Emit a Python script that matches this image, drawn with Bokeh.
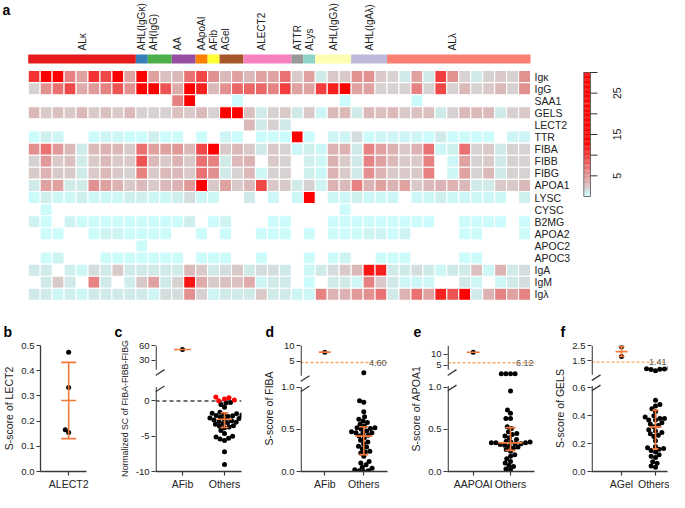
import numpy as np
from bokeh.plotting import figure
from bokeh.layouts import row, column
from bokeh.models import Range1d, LinearColorMapper, FixedTicker, ColumnDataSource
from bokeh.transform import transform
from bokeh.core.properties import value
from bokeh.embed import file_html
from bokeh.resources import INLINE

N = None

# ---------------- panel a : heat map data ----------------
groups = ["ALκ", "AHL(IgGκ)", "AH(IgG)", "AA", "AApoAI", "AFib", "AGel",
          "ALECT2", "ATTR", "ALys", "AHL(IgGλ)", "AHL(IgAλ)", "ALλ"]
group_sizes = [9, 1, 2, 2, 1, 1, 2, 4, 1, 1, 3, 3, 12]
group_colors = ["#e41a1c", "#377eb8", "#4daf4a", "#984ea3", "#ff7f00", "#ffff33", "#a65628",
                "#f781bf", "#999999", "#8dd3c7", "#ffffb3", "#bebada", "#fb8072"]
proteins = ["Igκ", "IgG", "SAA1", "GELS", "LECT2", "TTR", "FIBA", "FIBB", "FIBG", "APOA1",
            "LYSC", "CYSC", "B2MG", "APOA2", "APOC2", "APOC3", "IgA", "IgM", "Igλ"]

sc_igk = [10.5, 20, 22, 6.2, 4.4, 10.5, 9.2, 25, 4.4, 18, 4.4, 2.7, 3.1, 7.0, 9.2, 5.4, 3.1, 4.4, 3.1, 4.4,
          4.4, 7.0, 2.3, 4.4, 1.2, 2.3, 2.3, 5.4, 5.4, 2.3, 1.9, 1.2, 4.4, 1.2, 9.8, 5.4, 1.9, 1.2, 1.9, 2.3,
          1.9, 5.4]
sc_igg = [1.9, 5.4, 7.0, 9.2, 3.9, 4.9, 6.2, 8.6, 5.4, 17, 16, 8.6, 3.9, 21, 11.5, 3.1, 5.4, 7.5, 7.5, 7.5,
          6.2, 9.8, 4.4, 4.4, 9.8, 11.5, 15, 4.4, 4.4, 1.9, 1.9, 1.9, 6.2, 1.9, 9.2, 1.9, 3.1, 1.9, 2.3, 3.1,
          1.9, 5.4]
sc_saa1 = [N, N, N, N, N, N, N, N, N, N, N, N, 6.2, 24, N, N, N, 0.3, N, N,
           N, N, N, N, N, N, 0.3, N, N, N, N, N, 0.3, N, N, N, N, N, N, N,
           N, N]
sc_gels = [3.1, 2.3, 2.7, 2.3, 3.1, 2.3, 2.7, 2.3, 3.1, 1.9, 1.9, 1.9, 2.7, 2.3, 3.1, 1.9, 19, 17, 2.7, 1.2,
           1.9, 2.3, 1.2, 2.3, 0.6, 3.1, 3.1, 1.2, 3.1, 2.7, 3.1, 2.3, 2.7, 2.7, 1.2, 1.9, 3.1, 3.1, 3.1, 1.2,
           1.9, 2.3]
sc_lect2 = [N, N, N, N, N, N, N, N, N, N, N, N, N, N, N, N, N, N, 3.1, 1.2,
            1.9, 1.2, N, N, N, N, N, N, N, N, N, N, N, N, N, N, N, N, N, N,
            N, N]
sc_ttr = [0.3, 1.0, 0.6, N, N, 0.3, 0.6, 0.6, 0.3, 0.3, 1.0, 0.3, 0.3, N, 0.3, N, 0.6, 0.3, N, 0.3,
          0.3, 0.3, 26, 0.3, N, 0.6, 0.6, 1.6, 0.3, 0.6, 0.6, 0.6, 0.6, 0.3, 1.2, 0.3, 0.3, 0.3, 0.3, N,
          0.6, 0.6]
sc_fiba = [5.4, 7.0, 4.9, 3.1, 1.2, 3.1, 3.5, 3.1, 2.3, 7.0, 4.4, 4.4, 4.9, 3.1, 9.2, 22, 2.3, 3.1, 2.3, 1.2,
           2.3, 1.9, 0.5, 1.0, 0.5, 3.5, 3.5, 1.2, 6.2, 4.4, 3.5, 2.3, 3.5, 7.0, 0.5, 1.0, 7.0, 1.9, 2.3, 1.2,
           1.9, 1.9]
sc_fibb = [1.9, 4.9, 2.3, 2.7, 1.2, 2.3, 3.1, 2.3, 2.3, 8.6, 3.1, 2.3, 3.5, 2.3, 7.0, 6.2, 1.2, 3.1, 3.5, N,
           2.3, 1.9, N, 1.0, 0.5, 3.5, 2.3, 1.2, 6.2, 4.4, 3.1, 2.3, 2.3, 6.2, N, 0.5, 4.4, 1.9, 2.3, 1.2,
           1.9, 1.9]
sc_fibg = [2.3, 3.5, 2.3, 2.3, 1.2, 2.3, 3.1, 2.3, 1.9, 6.2, 2.3, 3.1, 3.1, 2.3, 7.0, 5.4, 1.2, 1.9, 3.1, 0.5,
           1.9, 1.9, N, 1.0, 0.5, 3.5, 2.3, 1.2, 5.4, 3.5, 2.3, 2.3, 2.3, 6.2, N, 0.5, 4.4, 1.9, 3.1, 1.2,
           1.9, 1.9]
sc_apoa1 = [1.2, 4.4, 4.4, 1.2, 1.2, 5.4, 4.4, 3.5, 2.3, 3.1, 2.3, 3.1, 3.5, 4.9, 18, 2.3, 4.4, 2.3, 3.1, 9.2,
            2.3, 2.3, 1.2, 1.9, 0.8, 3.5, 3.1, 6.2, 3.5, 4.4, 3.5, 4.4, 2.3, 3.1, 3.5, 3.5, 3.1, 1.2, 1.2, 2.3,
            2.3, 3.1]
sc_lysc = [0.3, 1.0, 0.5, 0.5, 1.0, 0.5, 0.5, 0.5, 1.0, 1.0, 0.5, 0.5, 1.0, 1.6, 0.5, 0.5, N, N, 1.2, N,
           0.5, N, 0.5, 27, N, 0.5, 0.5, 1.0, 0.5, 0.5, 0.5, N, 0.5, 0.5, 1.0, 0.5, 0.5, 0.5, 0.5, 0.5,
           N, 1.0]
sc_cysc = [N, 0.3, N, N, N, N, N, N, N, N, N, N, N, N, N, N, N, N, N, N,
           N, N, N, N, N, N, 0.3, N, N, N, N, N, N, N, N, N, N, N, N, N,
           N, N]
sc_b2mg = [0.8, 0.3, N, 0.8, 0.3, 0.3, 0.3, 0.3, 0.3, 0.3, 0.3, 0.3, 0.3, 1.0, N, 0.3, 0.8, N, N, N,
           0.3, 0.3, N, N, N, 0.3, 0.3, 0.3, 0.3, 0.3, 0.3, 0.3, 0.3, 0.3, N, N, 0.3, 0.3, 0.3, 0.3,
           N, 0.3]
sc_apoa2 = [N, 0.3, 0.3, N, N, 0.3, 0.8, 0.8, 0.3, 0.3, 0.3, 0.3, N, N, 0.3, N, 0.3, N, N, 0.3,
            0.3, 0.3, N, 0.3, N, 0.3, 0.3, 0.3, 0.8, 0.8, 0.3, 0.8, N, N, N, N, 0.3, 0.3, N, N,
            N, 0.3]
sc_apoc2 = [N, N, N, N, N, N, N, N, N, 0.3, N, N, N, N, N, N, N, N, N, N,
            N, N, N, N, N, N, N, N, N, N, N, N, N, N, N, N, N, N, N, N,
            N, N]
sc_apoc3 = [N, 0.3, 0.8, N, N, N, 0.3, 0.3, 0.3, 0.3, 0.3, 0.3, 0.3, N, 0.3, 0.3, 0.3, N, N, 0.3,
            N, N, N, 0.3, N, 0.3, 0.8, N, N, 0.3, 0.3, 0.3, N, N, N, N, 0.3, 0.3, N, N,
            N, N]
sc_iga = [1.2, 1.2, N, 1.0, 0.5, 1.6, 1.2, 2.3, 1.2, 1.2, 1.2, 1.2, 1.2, 3.1, 2.3, 1.2, 1.6, 2.3, 1.2, 1.6,
          1.6, 1.2, N, 0.5, 1.2, 1.6, 2.3, 3.1, 12, 11.5, 1.2, 1.2, 1.6, 1.2, 0.5, 1.2, 1.2, 2.7, 0.5, 3.5,
          1.2, 1.6]
sc_igm = [N, 1.2, 2.3, 1.2, N, 6.2, 1.2, N, 1.0, 2.3, 4.4, 1.2, 1.9, 12, 3.9, 2.3, 2.7, 2.7, 3.9, 0.6,
          1.2, 1.2, N, 0.3, N, 1.2, 1.2, 0.5, 6.2, 2.3, 1.2, 0.5, 0.5, 0.5, N, N, 1.2, 0.5, N, 0.5,
          1.2, 1.6]
sc_igl = [1.2, 1.2, 0.6, 1.0, 0.5, 1.2, 1.2, 1.2, 1.2, 1.2, 0.6, 1.6, 1.6, 5.4, 1.9, 0.6, 1.2, 1.2, 1.2, 2.3,
          1.2, 1.2, 0.6, 0.5, 6.2, 3.5, 3.5, 4.9, 5.4, 7.0, 1.2, 3.5, 7.0, 4.4, 11.5, 8.6, 20, 1.2, 3.5, 6.2,
          4.4, 6.2]
heat_rows = [sc_igk, sc_igg, sc_saa1, sc_gels, sc_lect2, sc_ttr, sc_fiba, sc_fibb, sc_fibg, sc_apoa1,
             sc_lysc, sc_cysc, sc_b2mg, sc_apoa2, sc_apoc2, sc_apoc3, sc_iga, sc_igm, sc_igl]

cmap_stops = [0, 0.6, 1.2, 1.9, 3.1, 4.4, 5.4, 7.0, 9.2, 11.5, 13, 30]
cmap_colors = ["#ccffff", "#cdf5f5", "#d0e8e8", "#d8d0d0", "#dcb8b8", "#e0a0a0", "#e39090",
               "#e97070", "#f04848", "#f82020", "#ff0000", "#ff0000"]
cbar_ticks = [5, 10, 15, 20, 25, 30]
cbar_labels = [5, 15, 25]

# ---------------- panels b-f data ----------------
lect2_alect2 = [0.473, 0.333, 0.155, 0.166]
fib_afib = [52.0]
fib_others = [-9.0, -7.2, -5.6, -5.4, -5.3, -5.1, -5.0, -4.6, -4.2, -3.8, -3.7, -3.6, -3.5, -3.3,
              -3.2, -3.1, -3.0, -2.9, -2.8, -2.7, -2.6, -2.5, -2.4, -2.3, -2.2, -2.1, -2.05, -2.0,
              -1.9, -1.8, -1.75, -1.6, -0.9, -0.5, -0.3, -0.2, 0.05, 0.15, 0.3, 0.45, 0.55]
fiba_afib = [7.9]
fiba_others = [0.00, 0.01, 0.01, 0.02, 0.04, 0.05, 0.08, 0.10, 0.12, 0.18, 0.22, 0.23, 0.24, 0.27,
               0.29, 0.30, 0.33, 0.35, 0.37, 0.40, 0.42, 0.43, 0.45, 0.46, 0.46, 0.47, 0.48, 0.50,
               0.51, 0.52, 0.52, 0.54, 0.56, 0.58, 0.60, 0.62, 0.65, 0.71, 0.82, 0.84, 1.34]
apoa1_aapoai = [11.0]
apoa1_others = [0.02, 0.03, 0.06, 0.07, 0.10, 0.12, 0.15, 0.18, 0.20, 0.24, 0.26, 0.28, 0.29, 0.30,
                0.31, 0.32, 0.33, 0.33, 0.34, 0.34, 0.34, 0.35, 0.35, 0.36, 0.38, 0.40, 0.42, 0.44,
                0.45, 0.47, 0.51, 0.53, 0.63, 0.63, 0.69, 0.73, 0.956, 1.0, 1.0, 1.0, 1.0]
gels_agel = [2.42, 1.78]
gels_others = [0.03, 0.04, 0.06, 0.07, 0.10, 0.11, 0.12, 0.14, 0.15, 0.16, 0.165, 0.17, 0.18, 0.22,
               0.25, 0.26, 0.27, 0.28, 0.29, 0.30, 0.32, 0.33, 0.34, 0.35, 0.37, 0.37, 0.38, 0.38,
               0.39, 0.40, 0.43, 0.45, 0.47, 0.48, 0.51, 0.85, 0.93, 0.95, 0.96, 0.98, 1.0]
fiba_cut = 4.60
apoa1_cut = 6.12
gels_cut = 1.41
panel_letters = ["b", "c", "d", "e", "f"]

# ---------------- style ----------------
FONT = "Liberation Sans"
INK = "#222222"
AXIS = "#3a3a3a"
ORANGE = "#f47a3a"
THR_COLOR = "#f8a85e"

# ---------------- heat map figure (also carries the panel letters b-f) ----------------
HM_W, HM_H = 669, 340
COL_W, ROW_H = 11.96, 12.1
HM_LEFT, HM_TOP = 27.7, 70.0
x_start = -HM_LEFT / COL_W
x_end = x_start + HM_W / COL_W
y_top = -HM_TOP / ROW_H
y_bottom = y_top + HM_H / ROW_H


def hx(px):
    return x_start + px / COL_W


def hy(px):
    return y_top + px / ROW_H


def hex2rgb(h):
    return [int(h[i:i + 2], 16) for i in (1, 3, 5)]


rgb = np.array([hex2rgb(c) for c in cmap_colors], float)
grid = np.linspace(0, 30, 256)
palette = []
for v in grid:
    r, g, b = (np.interp(v, cmap_stops, rgb[:, j]) for j in range(3))
    palette.append("#%02x%02x%02x" % (int(round(r)), int(round(g)), int(round(b))))
mapper = LinearColorMapper(palette=palette, low=0, high=30)

hm = figure(width=HM_W, height=HM_H, x_range=Range1d(x_start, x_end), y_range=Range1d(y_bottom, y_top),
            x_axis_location=None, y_axis_location=None, output_backend="svg", toolbar_location=None,
            min_border=0)
hm.outline_line_color = None
hm.grid.visible = False

cx, cy, cv = [], [], []
for r, vals in enumerate(heat_rows):
    for k, v in enumerate(vals):
        if v is not None:
            cx.append(k + 0.5)
            cy.append(r + 0.5)
            cv.append(v)
hm.rect(x="x", y="y", width=1, height=1, source=ColumnDataSource(dict(x=cx, y=cy, v=cv)),
        fill_color=transform("v", mapper), line_color="white", line_width=1.1)

starts = np.concatenate([[0], np.cumsum(group_sizes)[:-1]])
sizes = np.array(group_sizes)
bar_y0, bar_y1 = hy(54.0), hy(63.0)
hm.rect(x=starts + sizes / 2, y=(bar_y0 + bar_y1) / 2, width=sizes, height=bar_y1 - bar_y0,
        fill_color=group_colors, line_color=None)
hm.text(x=starts + (sizes - 1) // 2 + 0.5, y=[hy(50.0)] * len(groups), text=groups, angle=np.pi / 2,
        text_align="left", text_baseline="middle", text_font=value(FONT),
        text_font_size=value("10px"), text_color=INK)
hm.text(x=[hx(534)] * len(proteins), y=np.arange(len(proteins)) + 0.5, text=proteins,
        text_align="left", text_baseline="middle", text_font=value(FONT),
        text_font_size=value("10.5px"), text_color=INK)
hm.text(x=[hx(2.0)], y=[hy(1.0)], text=["a"], text_align="left", text_baseline="top",
        text_font=value(FONT), text_font_size=value("14px"), text_font_style="bold", text_color="black")
hm.text(x=[hx(px) for px in (3, 114, 265, 413, 560)], y=[hy(331.0)] * 5, text=panel_letters,
        text_align="left", text_baseline="alphabetic", text_font=value(FONT),
        text_font_size=value("14px"), text_font_style="bold", text_color="black")

# colour bar (values 0..30)
cb_x0, cb_x1 = hx(583.3), hx(590.0)
cb_top, cb_bot = hy(72.0), hy(196.0)
cb_unit = (cb_bot - cb_top) / 30.0
cb_vals = np.linspace(0, 30, 151)
cb_src = ColumnDataSource(dict(v=cb_vals, y=cb_bot - cb_vals * cb_unit))
hm.rect(x=(cb_x0 + cb_x1) / 2, y="y", width=cb_x1 - cb_x0,
        height=cb_unit * 30 / 150 * 1.3, source=cb_src,
        fill_color=transform("v", mapper), line_color=None)
hm.rect(x=(cb_x0 + cb_x1) / 2, y=(cb_top + cb_bot) / 2, width=cb_x1 - cb_x0, height=cb_bot - cb_top,
        fill_color=None, line_color="#555555", line_width=0.8)
tick_y = [cb_bot - t * cb_unit for t in cbar_ticks]
hm.segment(x0=[cb_x1] * len(tick_y), y0=tick_y, x1=[hx(597)] * len(tick_y), y1=tick_y,
           line_color="#333333", line_width=1)
hm.text(x=[hx(616)] * len(cbar_labels), y=[cb_bot - t * cb_unit for t in cbar_labels],
        text=[str(t) for t in cbar_labels], angle=np.pi / 2, text_align="center",
        text_baseline="middle", text_font=value(FONT), text_font_size=value("10.5px"), text_color=INK)

# ---------------- panels b-f ----------------
PANEL_H = 152
MB_TOP, MB_BOTTOM = 5, 17
FRAME_H = PANEL_H - MB_TOP - MB_BOTTOM
SC = FRAME_H / 146.0       # vertical compression relative to the reference frames
DOT = 5.0


def swarm(ys, diam):
    out = np.zeros(len(ys))
    placed = []
    for i in np.argsort(ys):
        y = ys[i]
        intervals = []
        cands = [0.0]
        for dx, yy in placed:
            dy = abs(y - yy)
            if dy < diam:
                h = np.sqrt(diam ** 2 - dy ** 2)
                intervals.append((dx - h, dx + h))
                cands += [dx - h, dx + h]
        cands.sort(key=abs)
        for c in cands:
            if all(not (lo + 1e-6 < c < hi - 1e-6) for lo, hi in intervals):
                out[i] = c
                break
        placed.append((out[i], y))
    return out


def make_panel(fig_x0, fig_x1, frame_l, frame_r, cat_x, cat_names, data, ylabel,
               ylab_size, lo_v0, lo_s, lo_ticks, lo_labels, up=None, up_ticks=(), up_labels=(),
               split=np.inf, lo_top_px=None, up_bot_px=None, stat="median", center_hw=(8, 8),
               cap_hw=4.5, cut=None, zero_line=False, highlight=None):
    lo_s = lo_s * SC
    ppu = (cat_x[1] - cat_x[0]) if len(cat_x) > 1 else 30.0
    xs = 1 - (cat_x[0] - frame_l) / ppu
    xe = xs + (frame_r - frame_l) / ppu
    p = figure(width=fig_x1 - fig_x0, height=PANEL_H, x_range=Range1d(xs, xe),
               y_range=Range1d(lo_v0, lo_v0 + FRAME_H / lo_s), output_backend="svg",
               toolbar_location=None, min_border_left=frame_l - fig_x0,
               min_border_right=fig_x1 - frame_r, min_border_top=MB_TOP, min_border_bottom=MB_BOTTOM)
    p.outline_line_color = None
    p.grid.visible = False
    if up is not None:
        up_va, up_pa, up_s = up
        up_pa, up_s = up_pa * SC, up_s * SC
        us = up_va - up_pa / up_s
        p.extra_y_ranges = {"up": Range1d(us, us + FRAME_H / up_s)}

    def ypx(v):
        if v <= split:
            return (v - lo_v0) * lo_s
        return up_pa + (v - up_va) * up_s

    def rng(v):
        return "up" if v > split else "default"

    if zero_line:
        p.segment(x0=[xs], y0=[0], x1=[xe], y1=[0], line_color="#444444", line_width=1.4,
                  line_dash="4 3")
    if cut is not None:
        p.segment(x0=[xs], y0=[cut], x1=[xe], y1=[cut], line_color=THR_COLOR, line_width=1.4,
                  line_dash="3 2", y_range_name="up")
        p.text(x=[xe - 1.0 / ppu], y=[cut], text=["%.2f" % cut], y_range_name="up", text_align="right",
               text_baseline="middle", text_font=value(FONT), text_font_size=value("9px"),
               text_color="#555555")

    for gi, vals in enumerate(data):
        c = gi + 1
        vals = np.asarray(vals, float)
        offs = swarm(np.array([ypx(v) for v in vals]), DOT * 0.92)
        x = c + offs / ppu
        cols = np.array(["#ff0000" if (highlight == gi and v > 0) else "#000000" for v in vals])
        low = vals <= split
        if low.any():
            p.scatter(x=x[low], y=vals[low], size=DOT, fill_color=list(cols[low]), line_color=None)
        if (~low).any():
            p.scatter(x=x[~low], y=vals[~low], size=DOT, fill_color=list(cols[~low]), line_color=None,
                      y_range_name="up")
        if stat == "mean":
            ctr = vals.mean()
            sd = vals.std(ddof=1)
            e_lo, e_hi = ctr - sd, ctr + sd
        else:
            ctr = np.median(vals)
            e_lo, e_hi = np.percentile(vals, [25, 75], method="weibull")
        hw = center_hw[gi] / ppu
        p.segment(x0=[c - hw], y0=[ctr], x1=[c + hw], y1=[ctr], line_color=ORANGE, line_width=1.6,
                  y_range_name=rng(ctr))
        if len(vals) > 1:
            ch = cap_hw / ppu
            p.segment(x0=[c, c - ch, c - ch], y0=[e_lo, e_lo, e_hi], x1=[c, c + ch, c + ch],
                      y1=[e_hi, e_lo, e_hi], line_color=ORANGE, line_width=1.6, y_range_name=rng(ctr))

    # axes
    for ax in (p.xaxis[0], p.yaxis[0]):
        ax.axis_line_color = AXIS
        ax.axis_line_width = 1.3
        ax.major_tick_line_color = AXIS
        ax.major_tick_line_width = 1.2
        ax.major_tick_out = 4
        ax.major_tick_in = 0
        ax.minor_tick_line_color = None
        ax.major_label_text_font = FONT
        ax.major_label_text_color = INK
        ax.major_label_standoff = 2
    p.xaxis.major_label_text_font_size = "10.5px"
    p.yaxis.major_label_text_font_size = "9.5px"
    p.xaxis.ticker = FixedTicker(ticks=list(range(1, len(cat_names) + 1)))
    p.xaxis.major_label_overrides = {i + 1: n for i, n in enumerate(cat_names)}
    ticks = [float(t) for t in lo_ticks]
    labels = list(lo_labels)
    if up is not None:
        for t, lab in zip(up_ticks, up_labels):
            ticks.append(lo_v0 + (up_pa + (t - up_va) * up_s) / lo_s)
            labels.append(lab)
    p.yaxis.ticker = FixedTicker(ticks=ticks)
    p.yaxis.major_label_overrides = dict(zip(ticks, labels))
    p.yaxis.axis_label = ylabel
    p.yaxis.axis_label_text_font = FONT
    p.yaxis.axis_label_text_font_size = ylab_size
    p.yaxis.axis_label_text_font_style = "normal"
    p.yaxis.axis_label_text_color = INK
    p.yaxis.axis_label_standoff = 3

    if up is not None:
        p.yaxis.axis_line_color = None
        ax_x = xs + 0.65 / ppu
        lt, ub = lo_top_px * SC, up_bot_px * SC

        def yl(px):
            return lo_v0 + px / lo_s

        up_bot_v = up_va + (ub - up_pa) / up_s
        up_top_v = up_va + (FRAME_H - up_pa) / up_s
        p.segment(x0=[ax_x], y0=[lo_v0], x1=[ax_x], y1=[yl(lt)], line_color=AXIS, line_width=1.3)
        p.segment(x0=[ax_x], y0=[up_bot_v], x1=[ax_x], y1=[up_top_v], line_color=AXIS, line_width=1.3,
                  y_range_name="up")
        p.segment(x0=[xs, xs], y0=[yl(ub - 6), yl(lt - 5)],
                  x1=[xs + 9 / ppu, xs + 9 / ppu], y1=[yl(ub), yl(lt + 1)],
                  line_color=AXIS, line_width=1.3)
    return p


pb = make_panel(0, 110, 37, 86, [67], ["ALECT2"], [lect2_alect2], "S-score of LECT2", "10.5px",
                0.0, 146 / 0.5, [0.0, 0.1, 0.2, 0.3, 0.4, 0.5],
                ["0.0", "0.1", "0.2", "0.3", "0.4", "0.5"], stat="mean", center_hw=(8,), cap_hw=8)

pc = make_panel(110, 255, 155, 241, [182, 224], ["AFib", "Others"], [fib_afib, fib_others],
                "Normalized SC of FIBA-FIBB-FIBG", "8.8px",
                -10.0, 81.7 / 10.0, [-10.0, -5.0, 0.0], ["-10", "-5", "0"],
                up=(30.0, 128.7, 17.3 / 30.0), up_ticks=[30, 60], up_labels=["30", "60"], split=5.0,
                lo_top_px=98, up_bot_px=118, center_hw=(8.5, 7.5), cap_hw=4, zero_line=True,
                highlight=1)

pd = make_panel(255, 400, 300, 387, [324.3, 363.3], ["AFib", "Others"], [fiba_afib, fiba_others],
                "S-score of FIBA", "10.5px",
                0.0, 97.7, [0.0, 0.5, 1.0], ["0.0", "0.5", "1.0"],
                up=(5.0, 127.7, 18.3 / 5.0), up_ticks=[5, 10], up_labels=["5", "10"], split=1.0,
                lo_top_px=98, up_bot_px=111, center_hw=(6, 8.5), cap_hw=4.5, cut=fiba_cut)

pe = make_panel(400, 545, 447, 534, [472.7, 510], ["AAPOAI", "Others"],
                [apoa1_aapoai, apoa1_others], "S-score of APOA1", "10.5px",
                0.0, 97.7, [0.0, 0.5, 1.0], ["0.0", "0.5", "1.0"],
                up=(5.0, 123.3, 12.4 / 5.0), up_ticks=[5, 10], up_labels=["5", "10"], split=0.98,
                lo_top_px=99, up_bot_px=118, center_hw=(6.5, 12), cap_hw=5, cut=apoa1_cut)

pf = make_panel(545, 669, 591, 667, [621, 655], ["AGel", "Others"], [gels_agel, gels_others],
                "S-score of GELS", "10.5px",
                0.0, 97.0 / 0.6, [0.0, 0.2, 0.4, 0.6], ["0.0", "0.2", "0.4", "0.6"],
                up=(1.5, 128.3, 17.7), up_ticks=[1.5, 2.5], up_labels=["1.5", "2.5"], split=0.6,
                lo_top_px=99, up_bot_px=112, center_hw=(6, 6), cap_hw=3, cut=gels_cut)

layout = column(hm, row(pb, pc, pd, pe, pf))
open("out.html", "w").write(file_html(layout, INLINE))
